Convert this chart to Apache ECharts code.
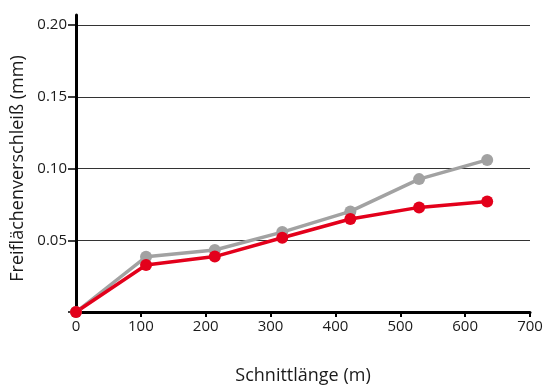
<!DOCTYPE html>
<html><head><meta charset="utf-8">
<script src="https://cdn.jsdelivr.net/npm/echarts@6/dist/echarts.min.js"></script>
<style>html,body{margin:0;padding:0;background:#fff}#c{width:558px;height:390px}</style>
</head><body><div id="c"></div>
<script>
const xValues = [0, 108, 214, 318, 423, 529, 634];
const greyValues = [0.000, 0.0385, 0.0432, 0.0557, 0.0701, 0.0926, 0.1060];
const redValues  = [0.000, 0.0328, 0.0386, 0.0517, 0.0648, 0.0729, 0.0770];
const xTicks = [0, 100, 200, 300, 400, 500, 600, 700];
const yTicks = [0.05, 0.10, 0.15, 0.20];
const xTitle = 'Schnittlänge (m)';
const yTitle = 'Freiflächenverschleiß (mm)';

const font = '"Open Sans", Roboto, sans-serif';
const chart = echarts.init(document.getElementById('c'), null, {renderer: 'canvas'});
const pairs = v => xValues.map((x, i) => [x, v[i]]);
chart.setOption({
  animation: false,
  grid: [
    {left: 76, right: 28, top: 25, bottom: 75, containLabel: false},
    {left: 76, right: 28, top: 15, bottom: 75, containLabel: false}
  ],
  xAxis: [{
    gridIndex: 0, type: 'value', min: 0, max: 700, interval: 100,
    name: xTitle, nameLocation: 'middle', nameGap: 55,
    nameTextStyle: {fontFamily: font, fontSize: 18, color: '#1a1a1a'},
    axisLine: {show: true, lineStyle: {color: '#000', width: 3}},
    axisTick: {show: true, length: 5, lineStyle: {color: '#000', width: 2}},
    axisLabel: {fontFamily: font, fontSize: 15, color: '#1a1a1a', margin: 7,
      formatter: v => xTicks.includes(v) ? String(v) : ''},
    splitLine: {show: false}
  }, {
    gridIndex: 1, type: 'value', show: false, min: 0, max: 700
  }],
  yAxis: [{
    gridIndex: 0, type: 'value', min: 0, max: 0.2, interval: 0.05,
    name: yTitle, nameLocation: 'middle', nameGap: 38,
    nameTextStyle: {fontFamily: font, fontSize: 18, color: '#1a1a1a'},
    axisLine: {show: false},
    axisTick: {show: true, length: 8, lineStyle: {color: '#000', width: 1.5}},
    axisLabel: {fontFamily: font, fontSize: 15, color: '#1a1a1a', margin: 9,
      formatter: v => yTicks.some(t => Math.abs(t - v) < 1e-9) ? v.toFixed(2) : ''},
    splitLine: {show: true, lineStyle: {color: '#333', width: 1.2}}
  }, {
    gridIndex: 1, type: 'value', min: 0, max: 1,
    axisLine: {show: true, onZero: false, lineStyle: {color: '#000', width: 3}},
    axisTick: {show: false}, axisLabel: {show: false}, splitLine: {show: false}
  }],
  series: [{
    type: 'line', xAxisIndex: 0, yAxisIndex: 0, data: pairs(greyValues),
    symbol: 'circle', symbolSize: 12, showAllSymbol: true,
    lineStyle: {color: '#a2a2a2', width: 3.5}, itemStyle: {color: '#a2a2a2'}
  }, {
    type: 'line', xAxisIndex: 0, yAxisIndex: 0, data: pairs(redValues),
    symbol: 'circle', symbolSize: 12, showAllSymbol: true,
    lineStyle: {color: '#e3001b', width: 3.5}, itemStyle: {color: '#e3001b'}
  }]
});
</script></body></html>
